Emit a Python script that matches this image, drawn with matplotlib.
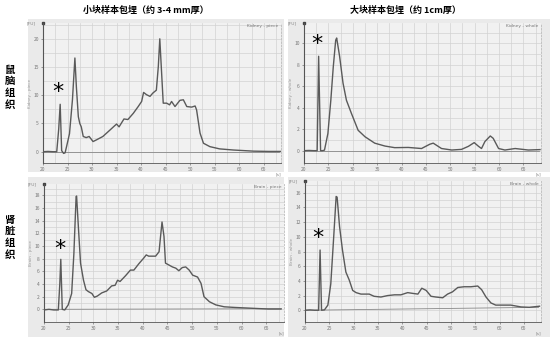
import matplotlib
matplotlib.use("Agg")
import matplotlib.pyplot as plt
import numpy as np

plt.rcParams['font.family'] = ['Noto Sans CJK SC', 'DejaVu Sans']

W, H = 554, 345

# ---------------- data ----------------
col_titles = ["小块样本包埋（约 3-4 mm厚）", "大块样本包埋（约 1cm厚）"]
row_labels = ["鼠\n脑\n组\n织", "肾\n脏\n组\n织"]
panel_names = ["Kidney - piece", "Kidney - whole", "Brain - piece", "Brain - whole"]
x_ticks = [20, 25, 30, 35, 40, 45, 50, 55, 60, 65]

# top-left (Kidney - piece)
tl_x = [20, 21, 22, 22.8, 23.2, 23.5, 23.8, 24.2, 24.5, 24.8, 25.4, 26.0, 26.5, 26.8, 27.2, 27.5, 27.8, 28.2,
        28.8, 29.4, 30.2, 30.9, 32.2, 33.6, 34.6, 35.0, 35.5, 36.5, 37.3, 38.4, 39.4, 40.1, 40.5, 41.1, 41.8,
        42.4, 43.1, 43.5, 43.8, 44.1, 44.5, 45.2, 45.8, 46.2, 46.9, 47.9, 48.6, 49.3, 50.3, 51.0, 51.3, 52.0,
        52.7, 54.0, 56.0, 58.8, 62.9, 66, 68.5]
tl_y = [0.0, 0.05, 0.0, 0.0, 4.0, 8.4, 0.2, -0.3, -0.2, 0.9, 3.2, 9.2, 16.6, 11.5, 6.2, 5.0, 4.4, 2.7,
        2.5, 2.7, 1.8, 2.1, 2.7, 3.8, 4.6, 4.9, 4.4, 5.8, 5.7, 6.8, 8.0, 8.9, 10.5, 10.1, 9.8,
        10.4, 10.9, 15.1, 20.0, 15.1, 8.6, 8.6, 8.3, 8.9, 8.0, 9.1, 9.2, 8.0, 7.9, 8.1, 7.4, 3.3,
        1.5, 0.9, 0.5, 0.3, 0.1, 0.05, 0.05]

# top-right (Kidney - whole)
tr_x = [20, 21, 22, 22.7, 23.0, 23.4, 23.8, 24.2, 24.9, 25.5, 26.0, 26.5, 26.7, 27.3, 28.0, 28.7, 29.7,
        31.1, 32.5, 34.5, 36.6, 38.6, 41.4, 44.1, 45.8, 46.5, 48.2, 50.3, 52.3, 53.7, 54.9, 55.8, 56.4,
        57.1, 58.2, 58.8, 59.9, 61.2, 63.3, 66.0, 68.4]
tr_y = [0.0, 0.02, 0.0, 0.0, 8.8, 0.0, 0.0, 0.05, 1.6, 4.7, 7.8, 10.3, 10.5, 8.8, 6.3, 4.7, 3.5,
        1.9, 1.3, 0.7, 0.43, 0.28, 0.3, 0.2, 0.6, 0.7, 0.2, 0.06, 0.12, 0.4, 0.75, 0.4, 0.2,
        0.85, 1.37, 1.15, 0.2, 0.06, 0.2, 0.06, 0.1]

# bottom-left (Brain - piece)
bl_x = [20, 21, 22, 22.9, 23.2, 23.4, 23.7, 24.2, 24.9, 25.6, 26.05, 26.5, 26.6, 27.0, 27.4, 28.0, 28.5,
        29.0, 29.7, 30.2, 30.8, 31.7, 32.7, 33.7, 34.4, 34.9, 35.4, 36.5, 37.5, 38.2, 39.2, 40.2, 40.7,
        41.2, 41.9, 42.6, 43.3, 43.6, 43.9, 44.3, 44.6, 45.3, 46.0, 46.7, 47.3, 48.0, 48.7, 49.4, 50.1,
        51.1, 51.8, 52.4, 53.5, 54.8, 56.5, 58.6, 61.3, 65.4, 68.0]
bl_y = [-0.1, 0.0, -0.1, -0.1, 4.0, 7.9, 0.0, -0.1, 0.7, 2.5, 8.8, 17.8, 17.9, 12.5, 7.3, 4.6, 3.1,
        2.8, 2.5, 1.9, 2.1, 2.6, 2.9, 3.7, 3.8, 4.6, 4.4, 5.3, 6.2, 6.2, 7.2, 8.1, 8.6,
        8.4, 8.4, 8.4, 9.1, 11.5, 13.8, 11.5, 7.3, 7.0, 6.7, 6.5, 6.1, 6.6, 6.7, 6.2, 5.4,
        5.1, 4.1, 2.0, 1.2, 0.7, 0.4, 0.3, 0.2, 0.05, 0.05]

# bottom-right (Brain - whole)
br_x = [20, 21, 22, 22.8, 23.1, 23.4, 24.0, 24.7, 25.3, 25.9, 26.4, 26.6, 27.1, 27.7, 28.4, 29.1, 29.8,
        30.5, 31.5, 33.2, 34.2, 35.6, 37.0, 38.4, 39.7, 41.1, 42.1, 43.2, 44.0, 44.9, 45.9, 46.9, 48.3,
        49.3, 50.3, 51.4, 52.7, 54.1, 55.5, 56.3, 57.2, 58.2, 59.2, 61.0, 62.3, 64.4, 66.1, 68.2]
br_y = [0.0, 0.05, 0.0, 0.0, 8.2, 0.0, 0.05, 0.7, 3.6, 10.0, 15.5, 15.4, 11.4, 8.2, 5.2, 4.1, 2.7,
        2.4, 2.2, 2.2, 1.9, 1.8, 2.0, 2.1, 2.1, 2.4, 2.3, 2.2, 3.0, 2.7, 1.9, 1.8, 1.7,
        2.2, 2.5, 3.1, 3.2, 3.2, 3.3, 2.8, 1.8, 1.0, 0.7, 0.7, 0.7, 0.45, 0.4, 0.55]

# baselines (start, end value)
baseline_start = [0.0, 0.0, 0.0, 0.0]
baseline_end = [0.0, 0.0, 0.1, 0.4]

# per-panel y axis settings
y_limits = [(-2.0, 22.8), (-1.15, 11.9), (-2.0, 19.8), (-1.6, 17.6)]
y_ticks = [[0, 5, 10, 15, 20], [0, 2, 4, 6, 8, 10],
           [0, 2, 4, 6, 8, 10, 12, 14, 16, 18], [0, 2, 4, 6, 8, 10, 12, 14, 16]]
y_minor = [2.5, 1, 1, 1]
star_pos = [(23.1, 10.5), (22.7, 9.9), (23.2, 9.6), (22.7, 9.9)]

series_x = [tl_x, tr_x, bl_x, br_x]
series_y = [tl_y, tr_y, bl_y, br_y]

# ---------------- layout (pixels) ----------------
# axes rect: left, right, top, bottom
ax_px = [(43, 281, 23, 163), (304, 541, 23, 163), (44, 284, 184, 322), (305, 541, 181, 322)]
bg_px = [(28, 284, 19, 172), (288, 550, 19, 172), (28, 284, 177, 337), (288, 550, 177, 337)]
x_lims = [(20, 68.5), (20, 68.6), (20, 68.6), (20, 68.5)]

fig = plt.figure(figsize=(W / 100, H / 100), dpi=100)
fig.patch.set_facecolor('white')

for (l, r, t, b) in bg_px:
    bgax = fig.add_axes([l / W, 1 - b / H, (r - l) / W, (b - t) / H], zorder=-5)
    bgax.set_facecolor('#eaeaea')
    bgax.set_xticks([])
    bgax.set_yticks([])
    for s in bgax.spines.values():
        s.set_visible(False)

for i in range(4):
    l, r, t, b = ax_px[i]
    ax = fig.add_axes([l / W, 1 - b / H, (r - l) / W, (b - t) / H], zorder=1)
    ax.set_facecolor('#f1f1f1')
    ax.set_xlim(*x_lims[i])
    ax.set_ylim(*y_limits[i])
    # grid
    for gx in np.arange(22.5, x_lims[i][1], 2.5):
        ax.axvline(gx, color='#d2d2d2', lw=0.5, zorder=0)
    for gy in np.arange(0, y_limits[i][1], y_minor[i]):
        ax.axhline(gy, color='#d2d2d2', lw=0.5, zorder=0)
    ax.set_xticks(x_ticks)
    ax.set_yticks(y_ticks[i])
    ax.tick_params(labelsize=3.5, colors='#777777', length=1.5, width=0.5, pad=1.5)
    ax.spines['top'].set_visible(False)
    ax.spines['right'].set_linestyle((0, (2, 2)))
    ax.spines['right'].set_color('#bbbbbb')
    ax.spines['right'].set_linewidth(0.6)
    ax.spines['left'].set_color('#555555')
    ax.spines['bottom'].set_color('#555555')
    ax.spines['left'].set_linewidth(0.8)
    ax.spines['bottom'].set_linewidth(0.6)
    ax.plot([0], [1], marker='s', markersize=1.8, color='#444444',
            transform=ax.transAxes, clip_on=False)
    # baseline
    ax.plot([x_lims[i][0], x_lims[i][1] - 0.5], [baseline_start[i], baseline_end[i]],
            color='#888888', lw=0.6, zorder=2)
    ax.plot(series_x[i], series_y[i], color='#5a5a5a', lw=1.0, zorder=3)
    sx, sy = star_pos[i]
    ax.text(sx, sy, '*', fontsize=16, color='black',
            ha='center', va='center', family='DejaVu Sans', zorder=4)
    ax.text(-0.03, 1.0, '[FU]', transform=ax.transAxes, fontsize=3.2, color='#888888',
            ha='right', va='center', family='DejaVu Sans')
    ax.text(1.0, -0.08, '[s]', transform=ax.transAxes, fontsize=3.2, color='#888888',
            ha='right', va='center', family='DejaVu Sans')
    ax.text(0.99, 0.99, panel_names[i], transform=ax.transAxes, fontsize=3.2,
            color='#777777', ha='right', va='top', family='DejaVu Sans')
    ax.set_ylabel(panel_names[i], fontsize=3.0, color='#999999', labelpad=1, family='DejaVu Sans')

fig.text(146 / W, 1 - 10 / H, col_titles[0], fontsize=6.5, fontweight='bold', ha='center', va='center')
fig.text(405 / W, 1 - 10 / H, col_titles[1], fontsize=6.5, fontweight='bold', ha='center', va='center')
fig.text(10 / W, 1 - 87 / H, row_labels[0], fontsize=7.5, fontweight='bold', ha='center', va='center',
         linespacing=1.2)
fig.text(10 / W, 1 - 237 / H, row_labels[1], fontsize=7.5, fontweight='bold', ha='center', va='center',
         linespacing=1.2)

fig.savefig('out.png', dpi=100)
